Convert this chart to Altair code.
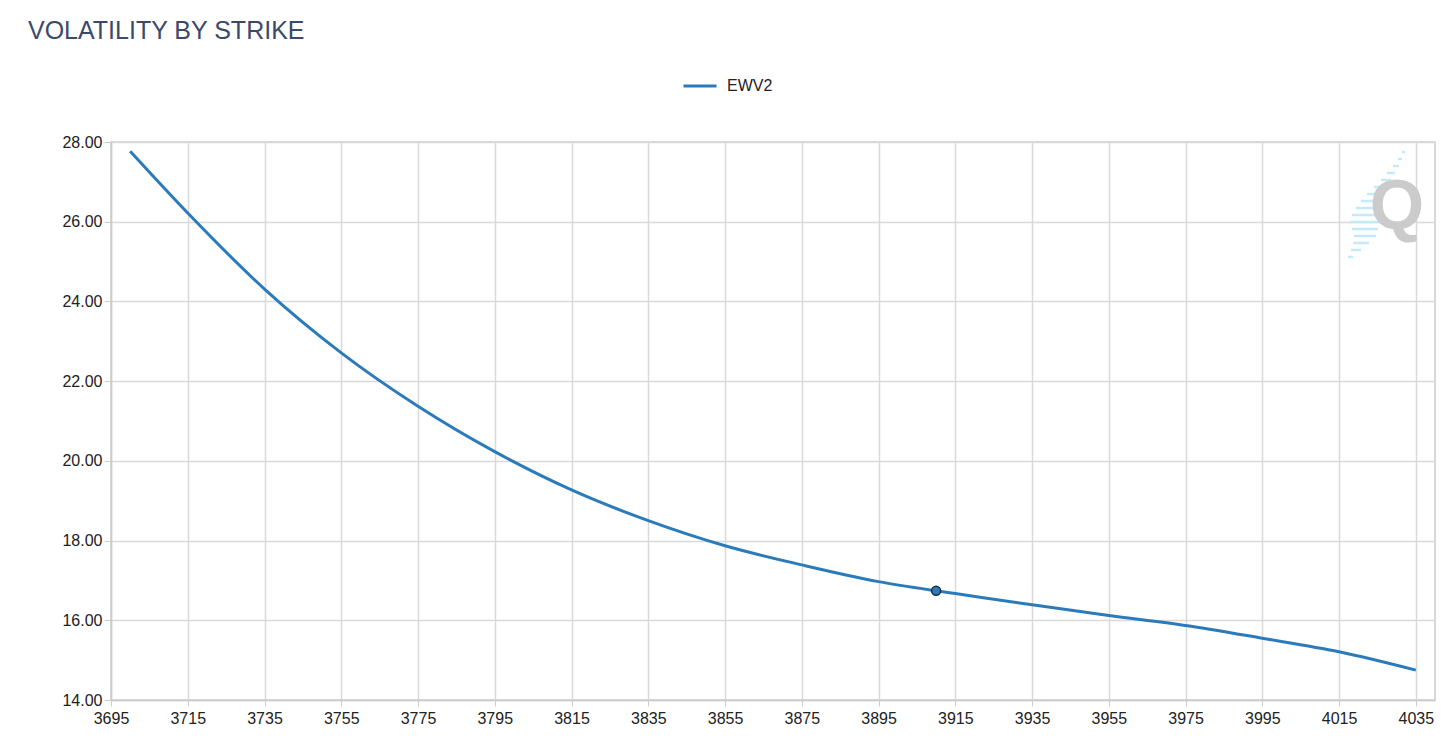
import altair as alt
import pandas as pd

# ---- data ----
strikes = [3700, 3715, 3735, 3755, 3775, 3795, 3815, 3835, 3855, 3875, 3895,
           3910, 3915, 3935, 3955, 3975, 3995, 4015, 4035]
vols = [27.77, 26.22, 24.31, 22.71, 21.37, 20.23, 19.27, 18.50, 17.87, 17.39,
        16.97, 16.74, 16.67, 16.39, 16.12, 15.87, 15.55, 15.21, 14.75]
series_name = "EWV2"
marker_strike = [3910]
marker_vol = [16.74]
x_ticks = list(range(3695, 4036, 20))
y_ticks = [14, 16, 18, 20, 22, 24, 26, 28]
title_text = "VOLATILITY BY STRIKE"
watermark = ["Q"]
# watermark stripe decoration (pixel rows, left ends and lengths)
stripe_rows = [10, 17, 24, 31, 38, 45, 52, 59, 66, 73, 80, 87, 94, 101, 108, 115]
stripe_left = [1291, 1287, 1282, 1276, 1270, 1263, 1256, 1250, 1245, 1241,
               1239, 1241, 1243, 1242, 1240, 1237]
stripe_lens = [3, 4, 6, 8, 10, 14, 18, 22, 26, 28, 28, 26, 22, 16, 10, 5]

FONT = "Liberation Sans"
LINE = "#2b7bba"

df = pd.DataFrame({"strike": strikes, "vol": vols, "series": series_name})
mk = pd.DataFrame({"strike": marker_strike, "vol": marker_vol})
wm = pd.DataFrame({"t": watermark})
st = pd.DataFrame({"y": stripe_rows, "x0": stripe_left, "len": stripe_lens})
st["x1"] = st["x0"] + st["len"]

x_enc = alt.X(
    "strike:Q",
    scale=alt.Scale(domain=[3695, 4040], nice=False, zero=False),
    axis=alt.Axis(values=x_ticks, format="d", title=None, tickSize=6,
                  labelPadding=4, labelFlush=False),
)
y_enc = alt.Y(
    "vol:Q",
    scale=alt.Scale(domain=[14, 28], nice=False, zero=False),
    axis=alt.Axis(values=y_ticks, format=".2f", title=None, tickSize=7,
                  labelPadding=2),
)

line = alt.Chart(df).mark_line(strokeWidth=3, interpolate="monotone").encode(
    x=x_enc,
    y=y_enc,
    color=alt.Color(
        "series:N",
        scale=alt.Scale(range=[LINE]),
        legend=alt.Legend(
            title=None, orient="none", legendX=571, legendY=-74,
            symbolType="stroke", symbolSize=1089, symbolStrokeWidth=3,
            labelFontSize=16, labelFont=FONT, labelColor="#222222",
            labelOffset=9, padding=0,
        ),
    ),
)

point = alt.Chart(mk).mark_point(
    filled=True, shape="circle", size=80, fill=LINE, stroke="#1c2e44",
    strokeWidth=1.5, opacity=1,
).encode(x="strike:Q", y="vol:Q")

stripes = alt.Chart(st).mark_rule(color="#c4e9f8", strokeWidth=2.5).encode(
    x=alt.X("x0:Q", scale=None),
    x2="x1:Q",
    y=alt.Y("y:Q", scale=None),
)

q = alt.Chart(wm).mark_text(
    font=FONT, fontSize=70, fontWeight="bold", color="#cbcbcb",
    baseline="middle", align="center",
).encode(x=alt.value(1286), y=alt.value(66), text="t:N")

chart = alt.layer(stripes, q, line, point).properties(
    width=1324,
    height=558,
    title=alt.TitleParams(
        title_text, anchor="start", frame="group", dx=-83, fontSize=25,
        font=FONT, fontWeight="normal", color="#3b4a6b", offset=24,
    ),
    autosize=alt.AutoSizeParams(type="none"),
    padding={"left": 111, "top": 142, "right": 21, "bottom": 55},
).configure_axis(
    labelFont=FONT, labelFontSize=16, labelColor="#222222",
    domainColor="#cccccc", tickColor="#cccccc", gridColor="#d9d9d9",
    domainWidth=1.5, gridWidth=1.5,
).configure_view(stroke="#cccccc", strokeWidth=1.5)

chart.save("out.html", embed_options={"renderer": "svg", "actions": False})
